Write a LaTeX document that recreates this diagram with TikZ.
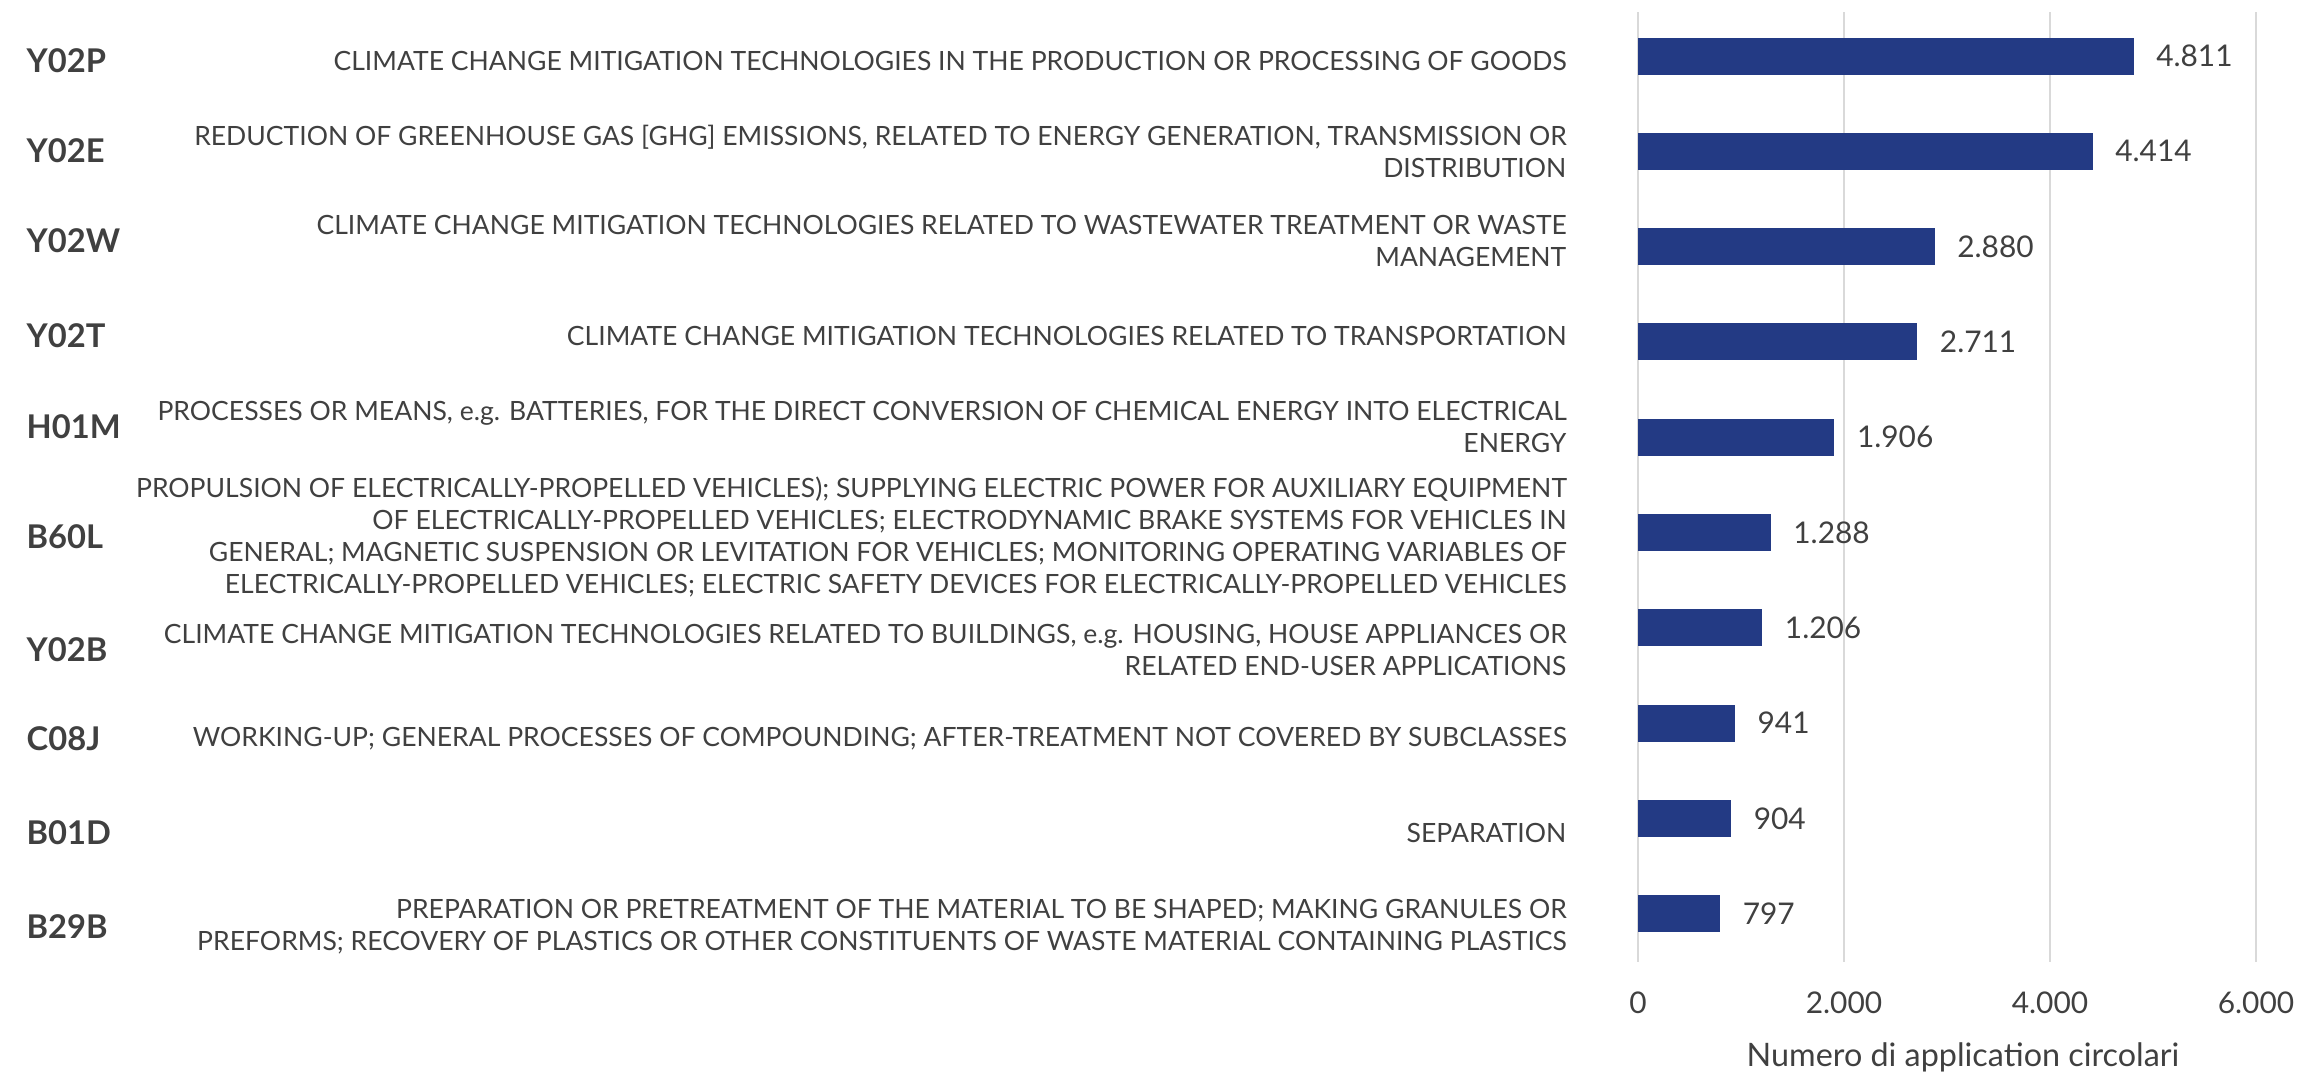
\documentclass[tikz,border=0pt]{standalone}
\usepackage{fontspec}
\setmainfont{Lato}
\usetikzlibrary{positioning}

\definecolor{barblue}{RGB}{35,58,132}
\definecolor{txtgray}{RGB}{64,64,64}
\definecolor{gridgray}{RGB}{217,217,217}

\tikzstyle{catcode} = [anchor=west, inner sep=0pt, text=txtgray, font=\fontsize{9.3}{11}\selectfont\bfseries]
\tikzstyle{catdesc} = [anchor=east, inner sep=0pt, align=right, text=txtgray, font=\fontsize{7.55}{9.1}\selectfont]
\tikzstyle{bar} = [rectangle, fill=barblue, inner sep=0pt, outer sep=0pt, minimum height=0.37cm, anchor=west]
\tikzstyle{barval} = [inner sep=0pt, text=txtgray, font=\fontsize{8.5}{10}\selectfont]
\tikzstyle{gridline} = [draw=gridgray, line width=0.57pt]

\begin{document}
\begin{tikzpicture}[x=1cm, y=-1cm, node distance = 0.22cm]
\useasboundingbox (0,0) rectangle (23.18,10.73);
% grid and axis
\foreach \k/\tk in {0/0, 1/2.000, 2/4.000, 3/6.000} {
  \coordinate (gtop\k) at ({16.38+2.06*\k}, 0.12);
  \coordinate (gbot\k) at ({16.38+2.06*\k}, 9.62);
  \draw[gridline] (gtop\k) -- (gbot\k);
  \node[barval] (tick\k) at ({16.38+2.06*\k}, 10.03) {\tk};
}
\node[barval, font=\fontsize{9.2}{11}\selectfont] (axtitle) at (19.63, 10.57) {Numero di application circolari};
% category codes
\node[catcode] (code1) at (0.26, 0.61) {Y02P};
\node[catcode] (code2) at (0.26, 1.51) {Y02E};
\node[catcode] (code3) at (0.26, 2.41) {Y02W};
\node[catcode] (code4) at (0.26, 3.36) {Y02T};
\node[catcode] (code5) at (0.26, 4.27) {H01M};
\node[catcode] (code6) at (0.26, 5.37) {B60L};
\node[catcode] (code7) at (0.26, 6.50) {Y02B};
\node[catcode] (code8) at (0.26, 7.39) {C08J};
\node[catcode] (code9) at (0.26, 8.33) {B01D};
\node[catcode] (code10) at (0.26, 9.27) {B29B};
% descriptions
\node[catdesc] (desc1) at (15.67, 0.61) {CLIMATE CHANGE MITIGATION TECHNOLOGIES IN THE PRODUCTION OR PROCESSING OF GOODS};
\node[catdesc] (desc2) at (15.67, 1.51) {REDUCTION OF GREENHOUSE GAS [GHG] EMISSIONS, RELATED TO ENERGY GENERATION, TRANSMISSION OR\\DISTRIBUTION};
\node[catdesc] (desc3) at (15.67, 2.41) {CLIMATE CHANGE MITIGATION TECHNOLOGIES RELATED TO WASTEWATER TREATMENT OR WASTE\\MANAGEMENT};
\node[catdesc] (desc4) at (15.67, 3.36) {CLIMATE CHANGE MITIGATION TECHNOLOGIES RELATED TO TRANSPORTATION};
\node[catdesc] (desc5) at (15.67, 4.27) {PROCESSES OR MEANS, e.g. BATTERIES, FOR THE DIRECT CONVERSION OF CHEMICAL ENERGY INTO ELECTRICAL\\ENERGY};
\node[catdesc] (desc6) at (15.67, 5.37) {PROPULSION OF ELECTRICALLY-PROPELLED VEHICLES); SUPPLYING ELECTRIC POWER FOR AUXILIARY EQUIPMENT\\OF ELECTRICALLY-PROPELLED VEHICLES; ELECTRODYNAMIC BRAKE SYSTEMS FOR VEHICLES IN\\GENERAL; MAGNETIC SUSPENSION OR LEVITATION FOR VEHICLES; MONITORING OPERATING VARIABLES OF\\ELECTRICALLY-PROPELLED VEHICLES; ELECTRIC SAFETY DEVICES FOR ELECTRICALLY-PROPELLED VEHICLES};
\node[catdesc] (desc7) at (15.67, 6.50) {CLIMATE CHANGE MITIGATION TECHNOLOGIES RELATED TO BUILDINGS, e.g. HOUSING, HOUSE APPLIANCES OR\\RELATED END-USER APPLICATIONS};
\node[catdesc] (desc8) at (15.67, 7.39) {WORKING-UP; GENERAL PROCESSES OF COMPOUNDING; AFTER-TREATMENT NOT COVERED BY SUBCLASSES};
\node[catdesc] (desc9) at (15.67, 8.33) {SEPARATION};
\node[catdesc] (desc10) at (15.67, 9.27) {PREPARATION OR PRETREATMENT OF THE MATERIAL TO BE SHAPED; MAKING GRANULES OR\\PREFORMS; RECOVERY OF PLASTICS OR OTHER CONSTITUENTS OF WASTE MATERIAL CONTAINING PLASTICS};
% bars
\foreach \i/\nv/\lbl in {1/4811/4.811, 2/4414/4.414, 3/2880/2.880, 4/2711/2.711, 5/1906/1.906,
    6/1288/1.288, 7/1206/1.206, 8/941/941, 9/904/904, 10/797/797} {
  \node[bar, minimum width={\nv/6000*6.18cm}] (bar\i) at (16.38, {0.56+0.953*(\i-1)}) {};
  \node[barval, right=of bar\i] (val\i) {\lbl};
}
\end{tikzpicture}
\end{document}
